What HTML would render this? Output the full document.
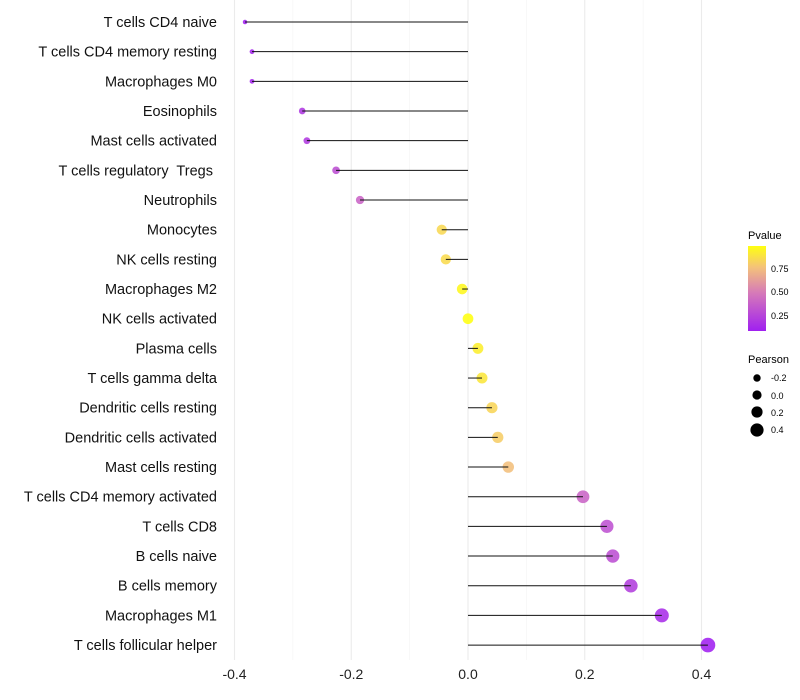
<!DOCTYPE html>
<html><head><meta charset="utf-8"><style>
body{margin:0;background:#fff}
svg{display:block;font-family:"Liberation Sans",sans-serif}
</style></head><body>
<svg id="c" width="800" height="700">
<defs><linearGradient id="pg" x1="0" y1="1" x2="0" y2="0">
<stop offset="0" stop-color="#a020f0"/><stop offset="0.45" stop-color="#d67ab8"/><stop offset="0.75" stop-color="#f4c27a"/><stop offset="1" stop-color="#ffff10"/></linearGradient></defs>
<g id="grid"></g><g id="marks"></g><g id="labels"></g>
<g>
<text x="748" y="239" font-size="11">Pvalue</text>
<rect x="748" y="246" width="18" height="85" fill="url(#pg)"/>
<text x="771" y="272" font-size="9">0.75</text><text x="771" y="295" font-size="9">0.50</text><text x="771" y="319" font-size="9">0.25</text>
</g>
<g>
<text x="748" y="363" font-size="11">Pearson</text>
<circle cx="757" cy="378" r="3.7"/><text x="771" y="381" font-size="9">-0.2</text>
<circle cx="757" cy="395" r="4.6"/><text x="771" y="399" font-size="9">0.0</text>
<circle cx="757" cy="412" r="5.6"/><text x="771" y="416" font-size="9">0.2</text>
<circle cx="757" cy="430" r="6.6"/><text x="771" y="433" font-size="9">0.4</text>
</g>
</svg>
<script>
const categories=["T cells CD4 naive","T cells CD4 memory resting","Macrophages M0","Eosinophils","Mast cells activated","T cells regulatory  Tregs\u00a0","Neutrophils","Monocytes","NK cells resting","Macrophages M2","NK cells activated","Plasma cells","T cells gamma delta","Dendritic cells resting","Dendritic cells activated","Mast cells resting","T cells CD4 memory activated","T cells CD8","B cells naive","B cells memory","Macrophages M1","T cells follicular helper"];
const pearson=[-0.382,-0.370,-0.370,-0.284,-0.276,-0.226,-0.185,-0.045,-0.038,-0.010,0.0,0.017,0.024,0.041,0.051,0.069,0.197,0.238,0.248,0.279,0.332,0.411];
const pvalue=[0.09,0.12,0.12,0.2,0.21,0.3,0.4,0.85,0.86,0.96,0.99,0.93,0.9,0.84,0.81,0.76,0.4,0.32,0.3,0.23,0.15,0.07];
const xTicks=[-0.4,-0.2,0.0,0.2,0.4];
const minorTicks=[-0.3,-0.1,0.1,0.3];
const ns="http://www.w3.org/2000/svg";
const X=v=>468+v*583.75;
const Y=i=>22+i*29.67;
const R=v=>Math.sqrt(5+(v+0.382)/0.793*49);
function col(p){const st=[[0.09,[160,32,240]],[0.5,[214,122,184]],[0.77,[244,194,122]],[0.99,[255,255,16]]];
if(p<=st[0][0])return 'rgb('+st[0][1]+')';
for(let k=1;k<st.length;k++){if(p<=st[k][0]){const t=(p-st[k-1][0])/(st[k][0]-st[k-1][0]);const a=st[k-1][1],b=st[k][1];return 'rgb('+a.map((x,j)=>Math.round(x+(b[j]-x)*t)).join(',')+')';}}
return 'rgb(255,255,16)';}
function mk(t,a,p){const e=document.createElementNS(ns,t);for(const k in a)e.setAttribute(k,a[k]);p.appendChild(e);return e;}
const g=document.getElementById('grid'),m=document.getElementById('marks'),l=document.getElementById('labels');
minorTicks.forEach(v=>{const e=mk('line',{x1:X(v),x2:X(v),y1:0,y2:660,stroke:'#f2f2f2','stroke-width':0.6},g);

});
xTicks.forEach(v=>{const e=mk('line',{x1:X(v),x2:X(v),y1:0,y2:660,stroke:'#ebebeb','stroke-width':1.1},g);


const t=mk('text',{x:X(v),y:679,'font-size':14,'text-anchor':'middle',fill:'#222'},l);t.textContent=v.toFixed(1);

});
categories.forEach((c,i)=>{
const t=mk('text',{x:217,y:Y(i)+5,'font-size':14.5,'text-anchor':'end',fill:'#111'},l);t.textContent=c;
t.setAttribute('style','white-space:pre');


const p=mk('circle',{cx:X(pearson[i]),cy:Y(i),r:R(pearson[i]),fill:col(pvalue[i]),'fill-opacity':0.88},m);


const s=mk('line',{x1:X(0),x2:X(pearson[i]),y1:Y(i),y2:Y(i),stroke:'#111','stroke-width':1},m);


});
</script>
</body></html>
